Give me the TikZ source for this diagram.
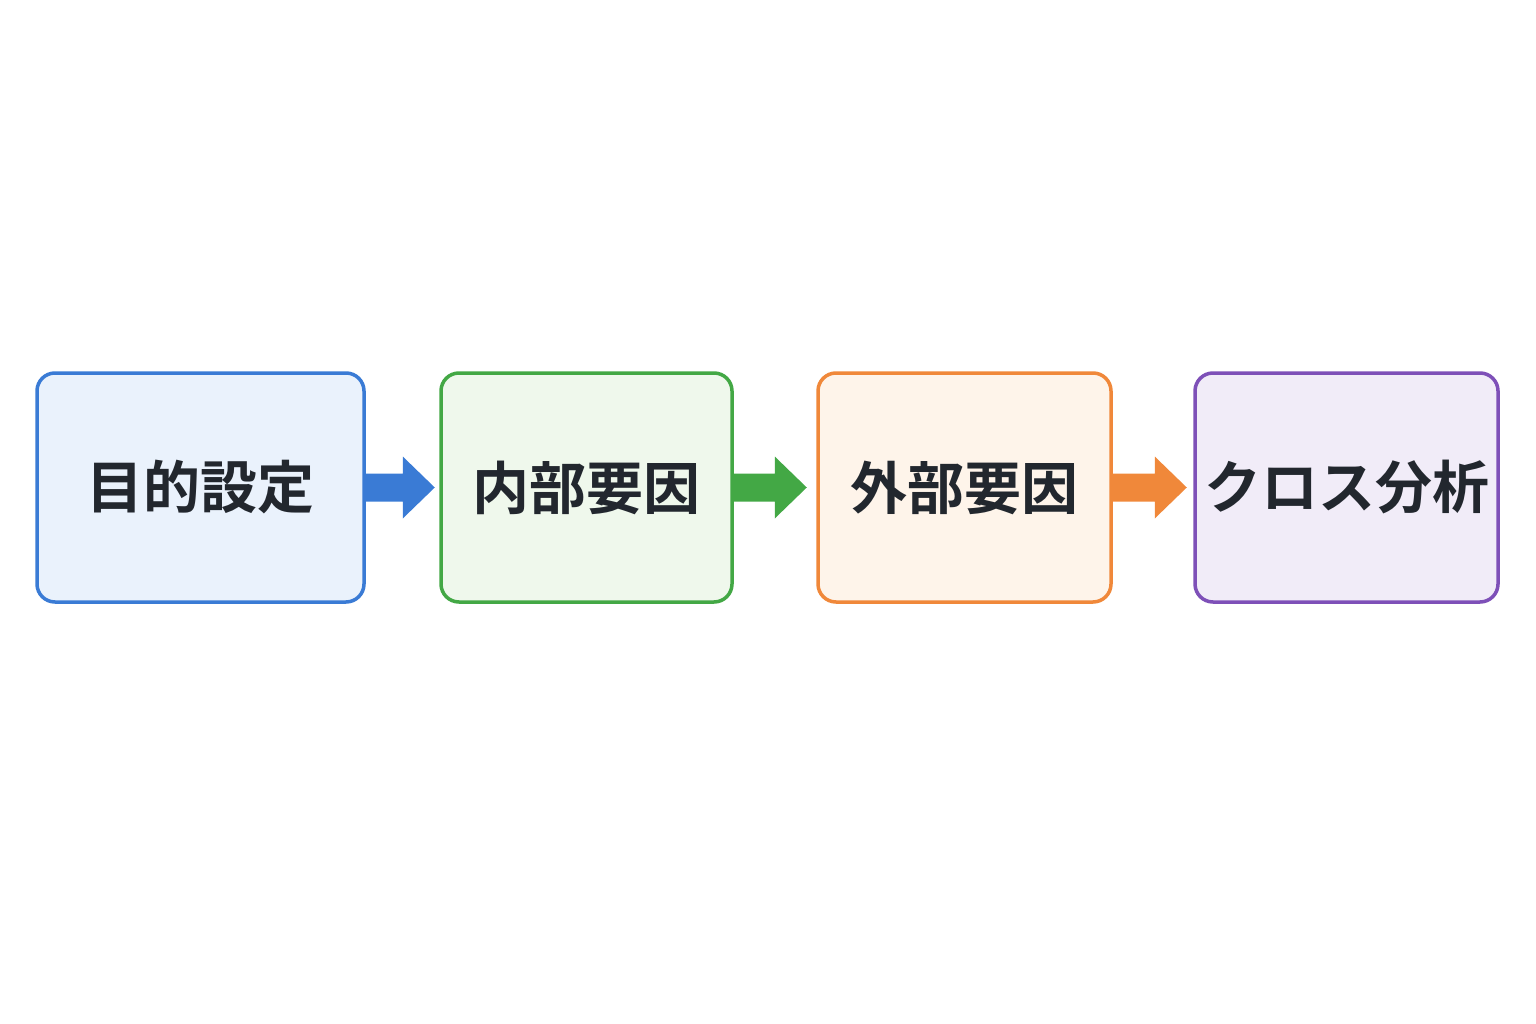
\documentclass[tikz,border=0pt]{standalone}
\usepackage{fontspec}
\newfontfamily\jp{Noto Sans CJK JP}[BoldFont={Noto Sans CJK JP Bold}]
\usepackage{tikz}
\usetikzlibrary{calc}

\definecolor{bluec}{HTML}{3A7BD5}
\definecolor{bluef}{HTML}{EAF2FC}
\definecolor{greenc}{HTML}{43A845}
\definecolor{greenf}{HTML}{EFF8EC}
\definecolor{orangec}{HTML}{F0883A}
\definecolor{orangef}{HTML}{FEF4EA}
\definecolor{purplec}{HTML}{7E50B8}
\definecolor{purplef}{HTML}{F1ECF8}
\definecolor{textc}{HTML}{22272E}

\newcommand{\flowarrow}[3]{%
\fill[#1] (#2.east) ++(0,-14) -- ++(#3,0) -- ++(0,-17) -- ++(32,31) -- ++(-32,31) -- ++(0,-17) -- ++(-#3,0) -- cycle;}

\begin{document}
\begin{tikzpicture}[x=1pt,y=-1pt,
  stepbox/.style={draw,line width=3.5pt,rounded corners=18pt,minimum height=229pt,
    inner sep=0pt,text=textc,font=\jp\bfseries\fontsize{57}{60}\selectfont}]
\useasboundingbox[fill=white] (0,0) rectangle (1536,1024);

\node[stepbox,draw=bluec,fill=bluef,minimum width=327pt] (goal) at (200.5,487.5) {目的設定};
\node[stepbox,draw=greenc,fill=greenf,minimum width=291pt] (inner) at (586.5,487.5) {内部要因};
\node[stepbox,draw=orangec,fill=orangef,minimum width=293pt] (outer) at (964.5,487.5) {外部要因};
\node[stepbox,draw=purplec,fill=purplef,minimum width=303pt] (cross) at (1346.5,487.5) {クロス分析};

\flowarrow{bluec}{goal}{37}
\flowarrow{greenc}{inner}{41}
\flowarrow{orangec}{outer}{42}
\end{tikzpicture}
\end{document}
